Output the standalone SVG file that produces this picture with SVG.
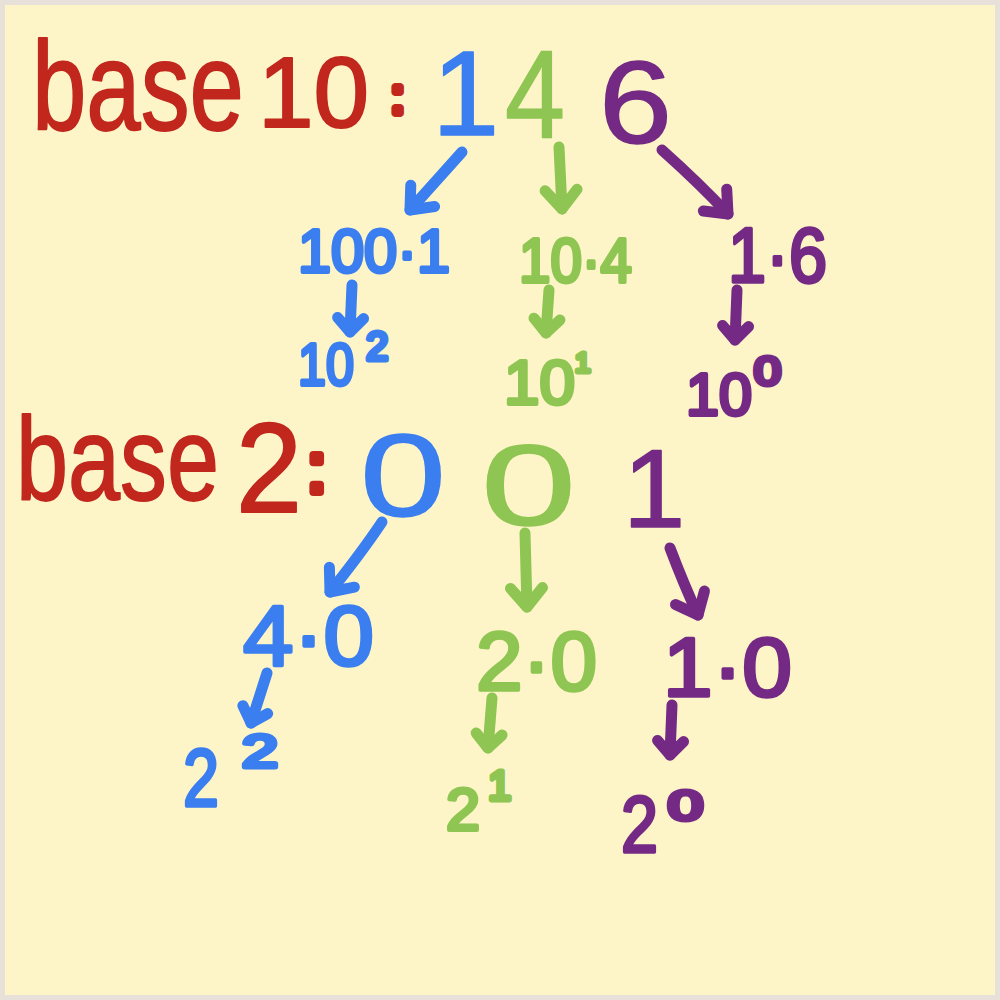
<svg xmlns="http://www.w3.org/2000/svg" width="1000" height="1000" viewBox="0 0 1000 1000">
<style>
.hw{font-family:"Liberation Sans",Arial,sans-serif;stroke-linejoin:round;stroke-linecap:round;paint-order:stroke}
.red{fill:#C1271D;stroke:#C1271D}
.blue{fill:#3A7EF0;stroke:#3A7EF0}
.green{fill:#8FC552;stroke:#8FC552}
.purple{fill:#742A84;stroke:#742A84}
.s0{stroke-width:1.5}
.s1{stroke-width:1.5}
.s2{stroke-width:2}
.s3{stroke-width:3.5}
.s4{stroke-width:4}
.s7{stroke-width:5}
.s8{stroke-width:8}
.conn path{fill:none;stroke-width:11;stroke-linecap:round;stroke-linejoin:round}
.cb{stroke:#3A7EF0}
.cg{stroke:#8FC552}
.cp{stroke:#742A84}
</style>
<defs>
<marker id="hb" markerUnits="userSpaceOnUse" markerWidth="60" markerHeight="60" viewBox="-30 -30 60 60" refX="0" refY="0" orient="auto"><path d="M -19 -16 L 0 0 L -19 16" fill="none" stroke="#3A7EF0" stroke-width="11" stroke-linecap="round" stroke-linejoin="round"/></marker>
<marker id="hg" markerUnits="userSpaceOnUse" markerWidth="60" markerHeight="60" viewBox="-30 -30 60 60" refX="0" refY="0" orient="auto"><path d="M -19 -16 L 0 0 L -19 16" fill="none" stroke="#8FC552" stroke-width="11" stroke-linecap="round" stroke-linejoin="round"/></marker>
<marker id="hp" markerUnits="userSpaceOnUse" markerWidth="60" markerHeight="60" viewBox="-30 -30 60 60" refX="0" refY="0" orient="auto"><path d="M -19 -16 L 0 0 L -19 16" fill="none" stroke="#742A84" stroke-width="11" stroke-linecap="round" stroke-linejoin="round"/></marker>
<marker id="sb" markerUnits="userSpaceOnUse" markerWidth="50" markerHeight="50" viewBox="-25 -25 50 50" refX="0" refY="0" orient="auto"><path d="M -14 -13 L 0 0 L -14 13" fill="none" stroke="#3A7EF0" stroke-width="11" stroke-linecap="round" stroke-linejoin="round"/></marker>
<marker id="sg" markerUnits="userSpaceOnUse" markerWidth="50" markerHeight="50" viewBox="-25 -25 50 50" refX="0" refY="0" orient="auto"><path d="M -14 -13 L 0 0 L -14 13" fill="none" stroke="#8FC552" stroke-width="11" stroke-linecap="round" stroke-linejoin="round"/></marker>
<marker id="sp" markerUnits="userSpaceOnUse" markerWidth="50" markerHeight="50" viewBox="-25 -25 50 50" refX="0" refY="0" orient="auto"><path d="M -14 -13 L 0 0 L -14 13" fill="none" stroke="#742A84" stroke-width="11" stroke-linecap="round" stroke-linejoin="round"/></marker>
</defs>
<rect x="2.5" y="2.5" width="995" height="995" fill="#FDF5C8" stroke="#E8E1DA" stroke-width="5"/>

<g id="label-base10">
<text class="hw red s1" x="32" y="130" font-size="105" textLength="212" lengthAdjust="spacingAndGlyphs" transform="matrix(1 0 0 1.2 0 -26)">base</text>
<text class="hw red s2" x="258" y="127" font-size="100">10</text>
<text class="hw red s8" x="391" y="113" font-size="48">:</text>
</g>
<g id="d10-hundreds"><text class="hw blue s0" x="432" y="135" font-size="121">1</text></g>
<g id="d10-tens"><text class="hw green s0" x="505" y="137" font-size="124" textLength="60" lengthAdjust="spacingAndGlyphs">4</text></g>
<g id="d10-ones"><text class="hw purple s0" x="599" y="143" font-size="116" textLength="73" lengthAdjust="spacingAndGlyphs">6</text></g>

<g id="v10-hundreds"><text class="hw blue s4" x="298" y="272" font-size="62" textLength="152" lengthAdjust="spacingAndGlyphs">100·1</text></g>
<g id="v10-tens"><text class="hw green s4" x="519" y="282" font-size="63" textLength="113" lengthAdjust="spacingAndGlyphs">10·4</text></g>
<g id="v10-ones"><text class="hw purple s3" x="728" y="282" font-size="77" textLength="99" lengthAdjust="spacingAndGlyphs">1·6</text></g>

<g id="p10-2"><text class="hw blue s4"><tspan x="298" y="385" font-size="60" textLength="56" lengthAdjust="spacingAndGlyphs">10</tspan><tspan class="s7" x="366" y="360" font-size="40">2</tspan></text></g>
<g id="p10-1"><text class="hw green s4"><tspan x="504" y="404" font-size="63" textLength="71" lengthAdjust="spacingAndGlyphs">10</tspan><tspan class="s7" x="575" y="372" font-size="28">1</tspan></text></g>
<g id="p10-0"><text class="hw purple s4"><tspan x="686" y="415" font-size="60" textLength="66" lengthAdjust="spacingAndGlyphs">10</tspan><tspan class="s7" x="754" y="385" font-size="40" textLength="27" lengthAdjust="spacingAndGlyphs">0</tspan></text></g>

<g id="label-base2">
<text class="hw red s1" x="16" y="500" font-size="100" textLength="203" lengthAdjust="spacingAndGlyphs" transform="matrix(1 0 0 1.19 0 -95)">base</text>
<text class="hw red s2" x="236" y="512" font-size="128" textLength="66" lengthAdjust="spacingAndGlyphs">2</text>
<text class="hw red s8" x="307" y="492" font-size="70">:</text>
</g>
<g id="d2-fours"><text class="hw blue s0" x="360" y="516" font-size="117" textLength="86" lengthAdjust="spacingAndGlyphs">0</text></g>
<g id="d2-twos"><text class="hw green s0" x="481" y="525" font-size="115" textLength="95" lengthAdjust="spacingAndGlyphs">0</text></g>
<g id="d2-ones"><text class="hw purple s0" x="623" y="527" font-size="112">1</text></g>

<g id="v2-fours"><text class="hw blue s3" x="243" y="665" font-size="85" textLength="131" lengthAdjust="spacingAndGlyphs">4·0</text></g>
<g id="v2-twos"><text class="hw green s3" x="476" y="690" font-size="84" textLength="121" lengthAdjust="spacingAndGlyphs">2·0</text></g>
<g id="v2-ones"><text class="hw purple s3" x="663" y="696" font-size="84" textLength="129" lengthAdjust="spacingAndGlyphs">1·0</text></g>

<g id="p2-2"><text class="hw blue s3"><tspan x="183" y="806" font-size="81" textLength="36" lengthAdjust="spacingAndGlyphs">2</tspan><tspan class="s7" x="242" y="767" font-size="47" textLength="36" lengthAdjust="spacingAndGlyphs">2</tspan></text></g>
<g id="p2-1"><text class="hw green s4"><tspan x="446" y="830" font-size="60" textLength="34" lengthAdjust="spacingAndGlyphs">2</tspan><tspan class="s7" x="488" y="800" font-size="42">1</tspan></text></g>
<g id="p2-0"><text class="hw purple s3"><tspan x="621" y="852" font-size="80" textLength="37" lengthAdjust="spacingAndGlyphs">2</tspan><tspan class="s7" x="668" y="820" font-size="42" textLength="35" lengthAdjust="spacingAndGlyphs">0</tspan></text></g>

<g id="connectors" class="conn">
<path class="cb" d="M462 152 L410 210" marker-end="url(#hb)"/>
<path class="cg" d="M559 147 L562 209" marker-end="url(#hg)"/>
<path class="cp" d="M662 150 Q700 184 728 214" marker-end="url(#hp)"/>
<path class="cb" d="M352 285 L350 332" marker-end="url(#sb)"/>
<path class="cg" d="M549 290 L546 333" marker-end="url(#sg)"/>
<path class="cp" d="M737 290 L735 340" marker-end="url(#sp)"/>
<path class="cb" d="M382 522 Q362 552 330 592" marker-end="url(#hb)"/>
<path class="cg" d="M525 533 L527 607" marker-end="url(#hg)"/>
<path class="cp" d="M670 548 Q684 585 698 615" marker-end="url(#hp)"/>
<path class="cb" d="M267 673 L251 723" marker-end="url(#sb)"/>
<path class="cg" d="M492 698 L488 748" marker-end="url(#sg)"/>
<path class="cp" d="M672 705 L670 755" marker-end="url(#sp)"/>
</g>
</svg>
